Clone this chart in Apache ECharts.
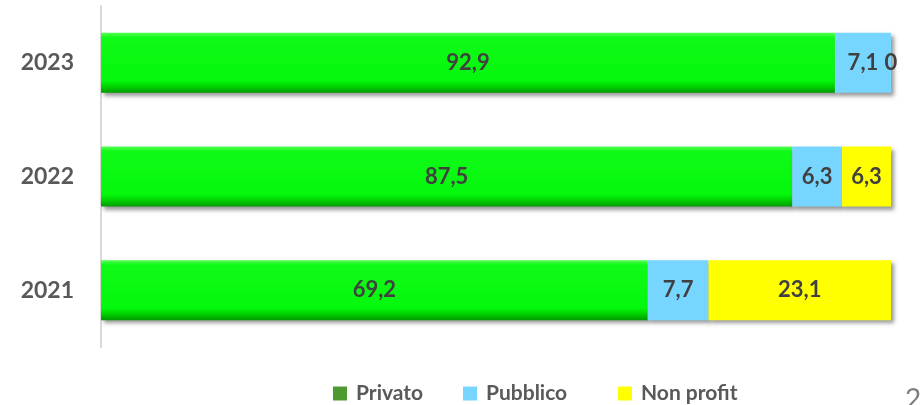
<!DOCTYPE html>
<html>
<head>
<meta charset="utf-8">
<script src="https://cdn.jsdelivr.net/npm/echarts@6/dist/echarts.min.js"></script>
<style>html,body{margin:0;padding:0;background:#fff;}#c{width:921px;height:405px;}</style>
</head>
<body>
<div id="c"></div>
<script>
var categories = ['2021', '2022', '2023'];
var privato = [69.2, 87.5, 92.9];
var pubblico = [7.7, 6.3, 7.1];
var nonProfit = [23.1, 6.3, 0];
var seriesNames = ['Privato', 'Pubblico', 'Non profit'];

var chart = echarts.init(document.getElementById('c'));
var fontFam = 'Lato, "Open Sans", sans-serif';
function fmt(p) { return String(p.value).replace('.', ','); }
var shadow = { shadowBlur: 4, shadowOffsetX: 3, shadowOffsetY: 3, shadowColor: 'rgba(0,0,0,0.4)' };
var labelStyle = { show: true, position: 'inside', formatter: fmt, fontFamily: fontFam, fontWeight: 'bold', fontSize: 22, color: '#404040' };
var greenGrad = new echarts.graphic.LinearGradient(0, 0, 0, 1, [
  { offset: 0, color: '#55ff55' },
  { offset: 0.08, color: '#10fa18' },
  { offset: 0.8, color: '#04f80c' },
  { offset: 0.9, color: '#00d000' },
  { offset: 1, color: '#009a00' }
]);
var noShadow = { shadowBlur: 0, shadowOffsetX: 0, shadowOffsetY: 0 };
function mkLegend(idx, left, color) {
  var it = { name: seriesNames[idx], icon: 'rect', itemStyle: Object.assign({}, noShadow) };
  if (color) it.itemStyle.color = color;
  return {
    left: left, top: 383, itemWidth: 14, itemHeight: 14, padding: 0,
    textStyle: { fontFamily: fontFam, fontWeight: 'bold', fontSize: 21, color: '#595959', padding: [0, 0, 0, 4] },
    data: [it]
  };
}
chart.setOption({
  animation: false,
  grid: { left: 101, right: 30, top: 6, bottom: 58 },
  xAxis: { type: 'value', min: 0, max: 100, show: false },
  yAxis: {
    type: 'category', data: categories,
    axisLine: { show: true, lineStyle: { color: '#d9d9d9', width: 2 } },
    axisTick: { show: false },
    axisLabel: { margin: 27, fontFamily: fontFam, fontWeight: 'bold', fontSize: 23, color: '#595959' }
  },
  legend: [mkLegend(0, 333, '#4f9a30'), mkLegend(1, 463), mkLegend(2, 618)],
  graphic: [{ type: 'text', left: 905, top: 386, style: { text: '2', fontFamily: fontFam, fontSize: 28, fill: '#7f7f7f' } }],
  series: [
    { name: seriesNames[0], type: 'bar', stack: 't', barWidth: 60, data: privato,
      itemStyle: Object.assign({ color: greenGrad }, shadow), label: labelStyle },
    { name: seriesNames[1], type: 'bar', stack: 't', barWidth: 60, data: pubblico,
      itemStyle: Object.assign({ color: '#77d6ff' }, shadow), label: labelStyle },
    { name: seriesNames[2], type: 'bar', stack: 't', barWidth: 60, data: nonProfit,
      itemStyle: Object.assign({ color: '#ffff00' }, shadow), label: labelStyle }
  ]
});
</script>
</body>
</html>
